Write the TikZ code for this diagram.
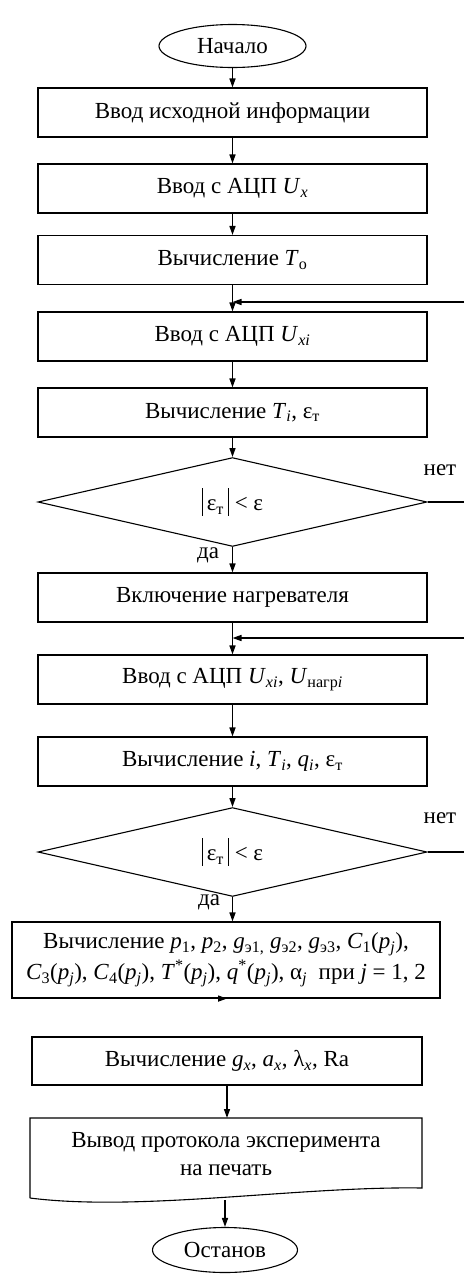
\documentclass[tikz,border=0pt]{standalone}
\usepackage{fontspec}
\setmainfont{Liberation Serif}
\usetikzlibrary{shapes.geometric,arrows.meta,calc}
\newcommand{\mi}[1]{\textit{#1}}
\newcommand{\lsb}[1]{\textsubscript{#1}}
\newcommand{\lsp}[1]{\textsuperscript{#1}}
\newcommand{\vbar}{\rule[-0.24em]{0.05em}{1.2em}}
\begin{document}
\begin{tikzpicture}[x=1pt,y=-1pt,
  every node/.style={font=\fontsize{23}{28}\selectfont},
  proc/.style={draw, line width=1.1pt, rectangle, minimum width=389pt, minimum height=49pt, inner sep=0pt, align=center},
  term/.style={draw, line width=1.1pt, ellipse, minimum width=147pt, minimum height=43pt, inner sep=0pt},
  dec/.style={draw, line width=1.1pt, diamond, minimum width=389pt, minimum height=77pt, inner sep=0pt},
  flow/.style={line width=1.5pt, -{Triangle[length=9pt,width=6pt]}},
  plain/.style={line width=1.5pt},
  lbl/.style={inner sep=0pt}]
\useasboundingbox (0,0) rectangle (464,1275);
\fill[white] (0,0) rectangle (464,1275);

\node[term] (start) at (232.5,46) {Начало};
\node[proc] (in1) at (232.5,112.5) {Ввод исходной информации};
\node[proc] (in2) at (232.5,188.5) {Ввод с АЦП \mi{U}\lsb{\mi{x}}};
\node[proc] (t0) at (232.5,260) {Вычисление \mi{T}\lsb{о}};
\node[proc] (uxi) at (232.5,336.5) {Ввод с АЦП \mi{U}\lsb{\mi{xi}}};
\node[proc] (ti) at (232.5,412.5) {Вычисление \mi{T}\lsb{\mi{i}}, ε\lsb{т}};
\node[dec] (d1) at (232.5,502) {\vbar\,ε\lsb{т}\,\vbar\ < ε};
\node[proc] (heat) at (232.5,597.5) {Включение нагревателя};
\node[proc] (unagr) at (232.5,679.5) {Ввод с АЦП \mi{U}\lsb{\mi{xi}}, \mi{U}\lsb{нагр\mi{i}}};
\node[proc] (calc1) at (232.5,761.5) {Вычисление \mi{i}, \mi{T}\lsb{\mi{i}}, \mi{q}\lsb{\mi{i}}, ε\lsb{т}};
\node[dec] (d2) at (232.5,852) {\vbar\,ε\lsb{т}\,\vbar\ < ε};
\node[proc, minimum width=428pt, minimum height=76pt, font=\fontsize{23}{31}\selectfont] (big) at (226,960)
  {Вычисление \mi{p}\lsb{1}, \mi{p}\lsb{2}, \mi{g}\lsb{э1,} \mi{g}\lsb{э2}, \mi{g}\lsb{э3}, \mi{C}\lsb{1}(\mi{p}\lsb{\mi{j}}),\\
   \mi{C}\lsb{3}(\mi{p}\lsb{\mi{j}}), \mi{C}\lsb{4}(\mi{p}\lsb{\mi{j}}), \mi{T}\lsp{*}(\mi{p}\lsb{\mi{j}}), \mi{q}\lsp{*}(\mi{p}\lsb{\mi{j}}), α\lsb{\mi{j}}~~при \mi{j} = 1, 2};
\node[proc, minimum width=390pt, minimum height=48pt] (gx) at (227,1061) {Вычисление \mi{g}\lsb{\mi{x}}, \mi{a}\lsb{\mi{x}}, λ\lsb{\mi{x}}, Ra};
\node[lbl, align=center] (out) at (226,1154) {Вывод протокола эксперимента\\на печать};
\draw[line width=1.1pt] (30,1198) -- (30,1118) -- (422,1118) -- (422,1188)
  .. controls (300,1186) and (140,1212) .. (30,1198);
\coordinate (outt) at (227,1118);
\coordinate (outb) at (225,1200);
\node[term, minimum width=145pt, minimum height=45pt] (stop) at (225,1250) {Останов};

\node[lbl] (no1) at (440,470) {нет};
\node[lbl] (yes1) at (208,555) {да};
\node[lbl] (no2) at (440,818) {нет};
\node[lbl] (yes2) at (209,902) {да};

\coordinate (r1) at (464,302);
\coordinate (r2) at (464,638);

\draw[flow] (start) -- (in1);
\draw[flow] (in1) -- (in2);
\draw[flow] (in2) -- (t0);
\draw[flow] (t0) -- (uxi);
\draw[flow] (uxi) -- (ti);
\draw[flow] (ti) -- (d1);
\draw[flow] (d1) -- (heat);
\draw[flow] (heat) -- (unagr);
\draw[flow] (unagr) -- (calc1);
\draw[flow] (calc1) -- (d2);
\draw[flow] (d2.south) -- (d2.south |- big.north);
\draw[flow] (big.south) -- (big.south -| gx.north);
\draw[flow] (gx.south) -- (outt);
\draw[flow] (outb) -- (stop.north);

\draw[flow] (r1) -- (t0.south |- r1);
\draw[flow] (r2) -- (heat.south |- r2);
\draw[plain] (d1.east) -- (d1.east -| r1);
\draw[plain] (d2.east) -- (d2.east -| r2);
\end{tikzpicture}
\end{document}
